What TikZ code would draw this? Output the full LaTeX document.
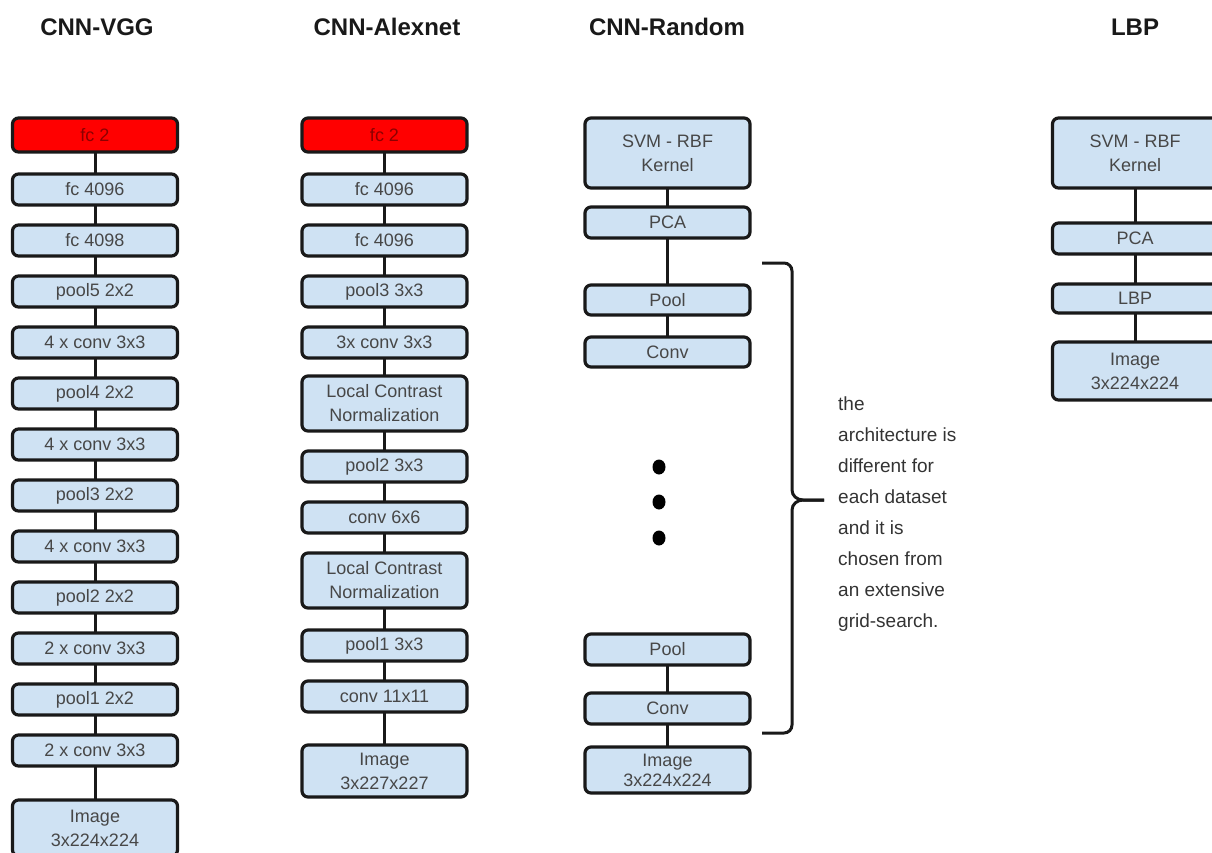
\documentclass[tikz,border=0pt]{standalone}
\usepackage{fontspec}
\setmainfont{Liberation Sans}
\usetikzlibrary{positioning}
\definecolor{layerblue}{HTML}{CFE2F3}
\definecolor{layertext}{HTML}{474747}

\begin{document}
\begin{tikzpicture}[x=1pt, y=-1pt, node distance = 20pt,
  layer/.style = {draw=black!90, line width=3.2pt, rounded corners=6pt,
    fill=layerblue, minimum width=165pt, minimum height=31pt,
    inner sep=0pt, outer sep=0pt, align=center, text=layertext,
    font=\fontsize{18}{24}\selectfont},
  outlayer/.style = {layer, fill=red, text=red!55!black, minimum height=34pt},
  tall/.style = {minimum height=#1},
  title/.style = {anchor=base, text=black!90, font=\fontsize{24}{28}\selectfont\bfseries},
  link/.style = {line width=3pt, black!90}
  ]
  \useasboundingbox (0,0) rectangle (1212,852);

  \node[title] (vgg-title) at (97,35)    {CNN-VGG};
  \node[title] (alex-title) at (387,35)  {CNN-Alexnet};
  \node[title] (rnd-title) at (667,35)   {CNN-Random};
  \node[title] (lbp-title) at (1135,35)  {LBP};

  % CNN-VGG
  \node[outlayer] (vgg-fc2) at (95,135) {fc 2};
  \node[layer] (vgg-fc7) [below=22pt of vgg-fc2] {fc 4096};
  \node[layer] (vgg-fc6) [below=of vgg-fc7]      {fc 4098};
  \node[layer] (vgg-pool5) [below=of vgg-fc6]    {pool5 2x2};
  \node[layer] (vgg-conv5) [below=of vgg-pool5]  {4 x conv 3x3};
  \node[layer] (vgg-pool4) [below=of vgg-conv5]  {pool4 2x2};
  \node[layer] (vgg-conv4) [below=of vgg-pool4]  {4 x conv 3x3};
  \node[layer] (vgg-pool3) [below=of vgg-conv4]  {pool3 2x2};
  \node[layer] (vgg-conv3) [below=of vgg-pool3]  {4 x conv 3x3};
  \node[layer] (vgg-pool2) [below=of vgg-conv3]  {pool2 2x2};
  \node[layer] (vgg-conv2) [below=of vgg-pool2]  {2 x conv 3x3};
  \node[layer] (vgg-pool1) [below=of vgg-conv2]  {pool1 2x2};
  \node[layer] (vgg-conv1) [below=of vgg-pool1]  {2 x conv 3x3};
  \node[layer, tall=56pt] (vgg-img) [below=34pt of vgg-conv1] {Image\\3x224x224};

  % CNN-Alexnet
  \node[outlayer] (alex-fc2) at (384.5,135) {fc 2};
  \node[layer] (alex-fc7) [below=22pt of alex-fc2] {fc 4096};
  \node[layer] (alex-fc6) [below=of alex-fc7]      {fc 4096};
  \node[layer] (alex-pool3) [below=of alex-fc6]    {pool3 3x3};
  \node[layer] (alex-conv3) [below=of alex-pool3]  {3x conv 3x3};
  \node[layer, tall=55pt] (alex-lcn2) [below=18pt of alex-conv3] {Local Contrast\\Normalization};
  \node[layer] (alex-pool2) [below=of alex-lcn2]   {pool2 3x3};
  \node[layer] (alex-conv2) [below=of alex-pool2]  {conv 6x6};
  \node[layer, tall=55pt] (alex-lcn1) [below=of alex-conv2] {Local Contrast\\Normalization};
  \node[layer] (alex-pool1) [below=22pt of alex-lcn1] {pool1 3x3};
  \node[layer] (alex-conv1) [below=of alex-pool1]  {conv 11x11};
  \node[layer, tall=52pt] (alex-img) [below=33pt of alex-conv1] {Image\\3x227x227};

  % CNN-Random
  \node[layer, tall=70pt] (rnd-svm) at (667.5,153) {SVM - RBF\\Kernel};
  \node[layer] (rnd-pca) [below=19pt of rnd-svm] {PCA};
  \node[layer, tall=30pt] (rnd-pool-top) [below=47pt of rnd-pca] {Pool};
  \node[layer, tall=30pt] (rnd-conv-top) [below=22pt of rnd-pool-top] {Conv};
  \node[layer] (rnd-pool-bot) at (667.5,649.5) {Pool};
  \node[layer] (rnd-conv-bot) [below=28pt of rnd-pool-bot] {Conv};
  \node[layer, tall=46pt, font=\fontsize{18}{20}\selectfont] (rnd-img) [below=23pt of rnd-conv-bot] {Image\\3x224x224};
  \foreach \y in {467,502,538}
    \fill (659,\y) ellipse [x radius=6.5pt, y radius=7.5pt];

  \coordinate (brace-top) at (762,263);
  \coordinate (brace-tip) at (824,500);
  \coordinate (brace-bot) at (762,733);
  \draw[link] (brace-top) -- (784,263) to[out=0,in=90] (792,271) -- (792,490)
    to[out=-90,in=180] (803,500) -- (brace-tip);
  \draw[link] (brace-tip) -- (803,500) to[out=180,in=90] (792,510) -- (792,725)
    to[out=-90,in=0] (784,733) -- (brace-bot);
  \node[anchor=north west, inner sep=0pt, align=left, text=black!80,
    font=\fontsize{19}{31}\selectfont] (rnd-note) at (838,397)
    {the\\architecture is\\different for\\each dataset\\and it is\\chosen from\\an extensive\\grid-search.};

  % LBP
  \node[layer, tall=70pt] (lbp-svm) at (1135,153) {SVM - RBF\\Kernel};
  \node[layer] (lbp-pca) [below=35pt of lbp-svm] {PCA};
  \node[layer, tall=29pt] (lbp-lbp) [below=30pt of lbp-pca] {LBP};
  \node[layer, tall=58pt] (lbp-img) [below=29pt of lbp-lbp] {Image\\3x224x224};

  \draw[link] (vgg-fc2) -- (vgg-fc7);
  \draw[link] (vgg-fc7) -- (vgg-fc6);
  \draw[link] (vgg-fc6) -- (vgg-pool5);
  \draw[link] (vgg-pool5) -- (vgg-conv5);
  \draw[link] (vgg-conv5) -- (vgg-pool4);
  \draw[link] (vgg-pool4) -- (vgg-conv4);
  \draw[link] (vgg-conv4) -- (vgg-pool3);
  \draw[link] (vgg-pool3) -- (vgg-conv3);
  \draw[link] (vgg-conv3) -- (vgg-pool2);
  \draw[link] (vgg-pool2) -- (vgg-conv2);
  \draw[link] (vgg-conv2) -- (vgg-pool1);
  \draw[link] (vgg-pool1) -- (vgg-conv1);
  \draw[link] (vgg-conv1) -- (vgg-img);

  \draw[link] (alex-fc2) -- (alex-fc7);
  \draw[link] (alex-fc7) -- (alex-fc6);
  \draw[link] (alex-fc6) -- (alex-pool3);
  \draw[link] (alex-pool3) -- (alex-conv3);
  \draw[link] (alex-conv3) -- (alex-lcn2);
  \draw[link] (alex-lcn2) -- (alex-pool2);
  \draw[link] (alex-pool2) -- (alex-conv2);
  \draw[link] (alex-conv2) -- (alex-lcn1);
  \draw[link] (alex-lcn1) -- (alex-pool1);
  \draw[link] (alex-pool1) -- (alex-conv1);
  \draw[link] (alex-conv1) -- (alex-img);

  \draw[link] (rnd-svm) -- (rnd-pca);
  \draw[link] (rnd-pca) -- (rnd-pool-top);
  \draw[link] (rnd-pool-top) -- (rnd-conv-top);
  \draw[link] (rnd-pool-bot) -- (rnd-conv-bot);
  \draw[link] (rnd-conv-bot) -- (rnd-img);

  \draw[link] (lbp-svm) -- (lbp-pca);
  \draw[link] (lbp-pca) -- (lbp-lbp);
  \draw[link] (lbp-lbp) -- (lbp-img);
\end{tikzpicture}
\end{document}
